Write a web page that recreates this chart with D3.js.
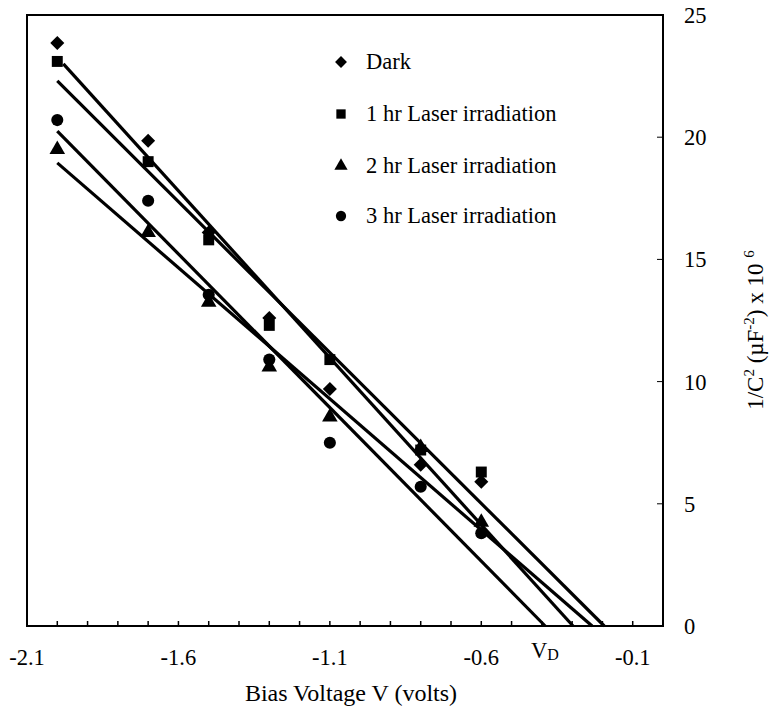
<!DOCTYPE html>
<html><head><meta charset="utf-8">
<script src="https://cdn.jsdelivr.net/npm/d3@7"></script>
<style>body{margin:0;background:#fff}svg{display:block}</style>
</head><body><svg id="c" width="770" height="712" font-family="'Liberation Serif', 'Times New Roman', serif"></svg>
<script>
const biasV = [-2.0, -1.7, -1.5, -1.3, -1.1, -0.8, -0.6];
const dark = [23.85, 19.85, 16.1, 12.6, 9.7, 6.6, 5.9];
const hr1 = [23.1, 19.0, 15.8, 12.3, 10.9, 7.2, 6.3];
const hr2 = [19.5, 16.1, 13.25, 10.6, 8.55, 7.3, 4.25];
const hr3 = [20.7, 17.4, 13.55, 10.9, 7.5, 5.7, 3.8];
const seriesNames = ["Dark", "1 hr Laser irradiation", "2 hr Laser irradiation", "3 hr Laser irradiation"];
// fitted lines: [x0, y0, x1, y1] in data units
const fitDark = [-1.98, 23.0, -0.297, 0];
const fitHr1 = [-2.0, 22.3, -0.194, 0];
const fitHr2 = [-2.0, 18.95, -0.234, 0];
const fitHr3 = [-2.0, 20.25, -0.389, 0];
const xTickLabels = [-2.1, -1.6, -1.1, -0.6, -0.1];
const yTickLabels = [0, 5, 10, 15, 20, 25];

const svg = d3.select("#c");
const x = d3.scaleLinear().domain([-2.1, 0.0]).range([27, 663]);
const y = d3.scaleLinear().domain([0, 25]).range([626, 15]);
const FS = 22.5;

// frame
svg.append("rect").attr("x", x(-2.1)).attr("y", y(25)).attr("width", x(0) - x(-2.1)).attr("height", y(0) - y(25))
  .attr("fill", "none").attr("stroke", "#000").attr("stroke-width", 2);

// x minor ticks
const xt = d3.range(-20, 0).map(i => i / 10);
svg.selectAll(".xt").data(xt).enter().append("line")
  .attr("x1", d => x(d)).attr("x2", d => x(d)).attr("y1", y(0)).attr("y2", y(0) - 5)
  .attr("stroke", "#000").attr("stroke-width", 1.5);
svg.selectAll(".xl").data(xTickLabels).enter().append("text")
  .attr("x", d => x(d)).attr("y", 665).attr("text-anchor", "middle").attr("font-size", FS)
  .text(d => d.toFixed(1));
// V_D
const vd = svg.append("text").attr("x", 531).attr("y", 658).attr("font-size", FS);
vd.append("tspan").text("V");
vd.append("tspan").attr("font-size", 16).attr("dy", 2).text("D");

// y ticks
svg.selectAll(".yt").data(yTickLabels.slice(1, 5)).enter().append("line")
  .attr("x1", x(0)).attr("x2", x(0) - 6).attr("y1", d => y(d)).attr("y2", d => y(d))
  .attr("stroke", "#000").attr("stroke-width", 1);
svg.selectAll(".yl").data(yTickLabels).enter().append("text")
  .attr("x", 684).attr("y", d => y(d) + 8).attr("font-size", FS).text(d => d);

// titles
svg.append("text").attr("x", 351).attr("y", 701).attr("text-anchor", "middle").attr("font-size", 24)
  .text("Bias Voltage V (volts)");
const yt = svg.append("text").attr("transform", "translate(763,330) rotate(-90)")
  .attr("text-anchor", "middle").attr("font-size", 23);
yt.append("tspan").text("1/C");
yt.append("tspan").attr("font-size", 15).attr("dy", -9).text("2");
yt.append("tspan").attr("dy", 9).text(" (\u00B5F");
yt.append("tspan").attr("font-size", 15).attr("dy", -9).text("-2");
yt.append("tspan").attr("dy", 9).text(") x 10 ");
yt.append("tspan").attr("font-size", 15).attr("dy", -9).text("6");

// fit lines
const fits = [fitDark, fitHr1, fitHr2, fitHr3];
svg.selectAll(".fit").data(fits).enter().append("line")
  .attr("x1", d => x(d[0])).attr("y1", d => y(d[1])).attr("x2", d => x(d[2])).attr("y2", d => y(d[3]))
  .attr("stroke", "#000").attr("stroke-width", 3.2);

// markers
const symbols = [
  d3.symbol().type(d3.symbolDiamond2).size(125),
  d3.symbol().type(d3.symbolSquare).size(120),
  d3.symbol().type(d3.symbolTriangle).size(105),
  d3.symbol().type(d3.symbolCircle).size(115)
];
const allSeries = [dark, hr1, hr2, hr3];
allSeries.forEach((vals, si) => {
  svg.selectAll(".m" + si).data(vals).enter().append("path")
    .attr("d", symbols[si]())
    .attr("transform", (d, i) => `translate(${x(biasV[i])},${y(d)})`)
    .attr("fill", "#000");
});

// legend
const legY = [62, 114, 166, 216];
seriesNames.forEach((n, i) => {
  svg.append("path").attr("d", symbols[i]()).attr("transform", `translate(341,${legY[i]}) scale(0.85)`).attr("fill", "#000");
  svg.append("text").attr("x", 366).attr("y", legY[i] + 7).attr("font-size", FS).text(n);
});
</script></body></html>
